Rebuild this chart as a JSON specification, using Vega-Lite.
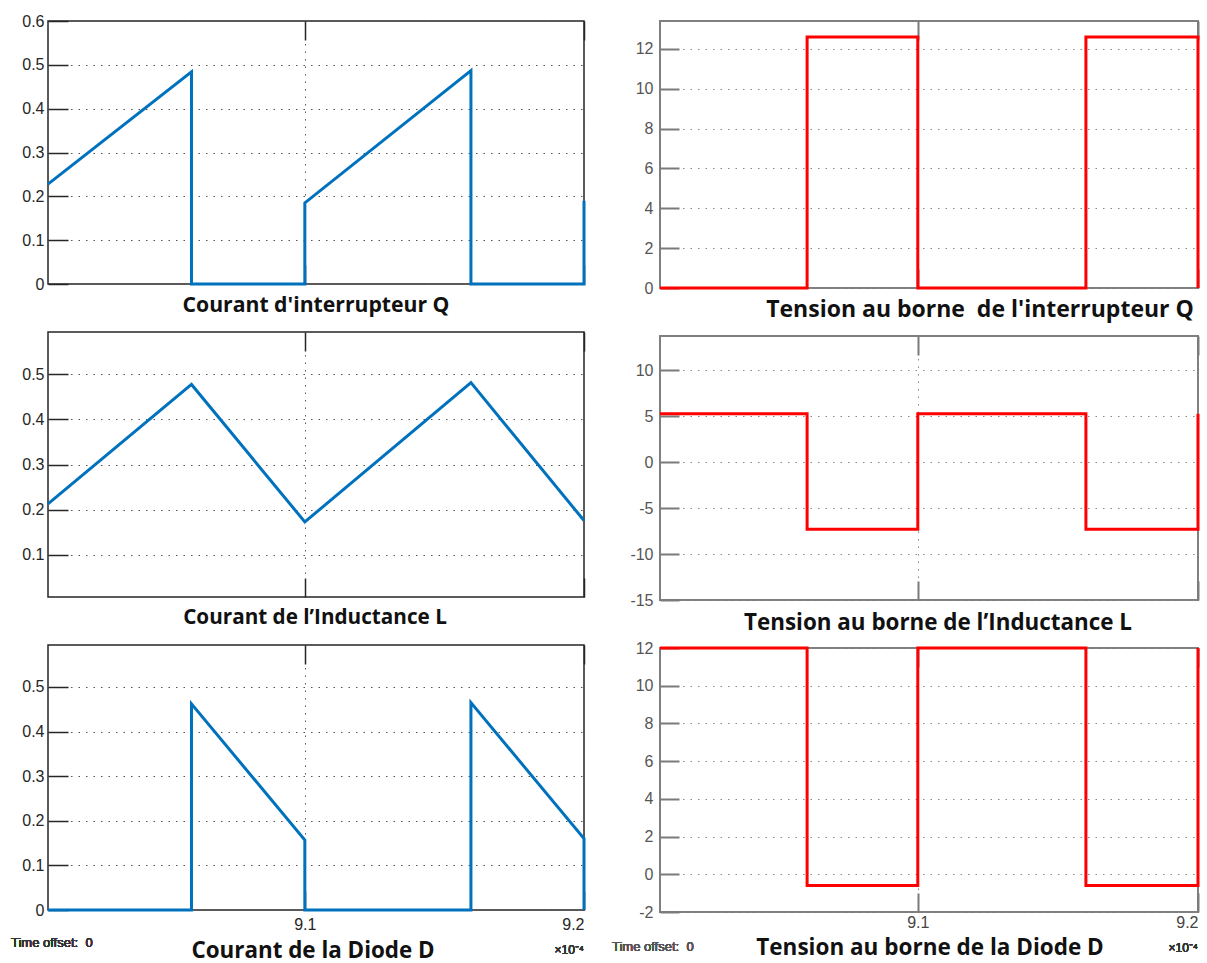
{
  "$schema": "https://vega.github.io/schema/vega-lite/v6.json",
  "background": "white",
  "padding": {"left": 10, "top": 12, "right": 5, "bottom": 5},
  "config": {
    "axis": {"labelFont": "Liberation Sans", "labelFontSize": 16, "title": null, "domain": false},
    "title": {"font": "Open Sans", "fontWeight": "bold", "fontSize": 20, "color": "#111111", "orient": "bottom", "anchor": "middle"}
  },
  "datasets": {
    "iQ": [
      {"t": 9.008, "v": 0.228}, {"t": 9.0594, "v": 0.484}, {"t": 9.0594, "v": 0}, {"t": 9.1, "v": 0},
      {"t": 9.1, "v": 0.185}, {"t": 9.1595, "v": 0.487}, {"t": 9.1595, "v": 0}, {"t": 9.2, "v": 0}, {"t": 9.2, "v": 0.19}
    ],
    "iL": [
      {"t": 9.008, "v": 0.213}, {"t": 9.0594, "v": 0.477}, {"t": 9.1, "v": 0.173}, {"t": 9.1595, "v": 0.481}, {"t": 9.2, "v": 0.176}
    ],
    "iD": [
      {"t": 9.008, "v": 0}, {"t": 9.0594, "v": 0}, {"t": 9.0594, "v": 0.462}, {"t": 9.1, "v": 0.157}, {"t": 9.1, "v": 0},
      {"t": 9.1595, "v": 0}, {"t": 9.1595, "v": 0.465}, {"t": 9.2, "v": 0.16}, {"t": 9.2, "v": 0}
    ],
    "vQ": [
      {"t": 9.008, "v": 0}, {"t": 9.0605, "v": 0}, {"t": 9.0605, "v": 12.6}, {"t": 9.1, "v": 12.6}, {"t": 9.1, "v": 0},
      {"t": 9.16, "v": 0}, {"t": 9.16, "v": 12.6}, {"t": 9.2, "v": 12.6}, {"t": 9.2, "v": 0}
    ],
    "vL": [
      {"t": 9.008, "v": 5.25}, {"t": 9.0605, "v": 5.25}, {"t": 9.0605, "v": -7.3}, {"t": 9.1, "v": -7.3}, {"t": 9.1, "v": 5.25},
      {"t": 9.16, "v": 5.25}, {"t": 9.16, "v": -7.3}, {"t": 9.2, "v": -7.3}, {"t": 9.2, "v": 5.25}
    ],
    "vD": [
      {"t": 9.008, "v": 12}, {"t": 9.0605, "v": 12}, {"t": 9.0605, "v": -0.6}, {"t": 9.1, "v": -0.6}, {"t": 9.1, "v": 12},
      {"t": 9.16, "v": 12}, {"t": 9.16, "v": -0.6}, {"t": 9.2, "v": -0.6}, {"t": 9.2, "v": 12}
    ]
  },
  "spacing": 20,
  "hconcat": [
    {
      "spacing": 48,
      "bounds": "flush",
      "vconcat": [
        {
          "width": 536, "height": 263,
          "view": {"stroke": "#262626", "strokeWidth": 1.5},
          "title": {"text": "Courant d'interrupteur Q", "offset": 3, "dx": 0, "fontSize": 21.2},
          "data": {"name": "iQ"},
          "resolve": {"axis": {"x": "independent"}},
          "encoding": {
            "y": {"field": "v", "type": "quantitative", "scale": {"domain": [0, 0.6], "nice": false, "zero": false},
                  "axis": {"values": [0, 0.1, 0.2, 0.3, 0.4, 0.5, 0.6], "format": "~g", "grid": true, "gridDash": [1.5, 6], "gridColor": "#555555", "tickSize": -20, "tickColor": "#262626", "tickWidth": 1.5, "labelPadding": 24, "labelColor": "#262626"}}
          },
          "layer": [
            {
              "mark": {"type": "line", "color": "#0072BD", "strokeWidth": 3},
              "encoding": {
                "x": {"field": "t", "type": "quantitative", "scale": {"domain": [9.008, 9.2], "nice": false, "zero": false},
                      "axis": {"values": [9.1, 9.2], "labels": false, "grid": true, "gridDash": [1.5, 6], "gridColor": "#555555", "tickSize": -19, "tickColor": "#262626", "tickWidth": 1.5}}
              }
            },
            {
              "mark": {"type": "line", "opacity": 0},
              "encoding": {
                "x": {"field": "t", "type": "quantitative", "scale": {"domain": [9.008, 9.2], "nice": false, "zero": false},
                      "axis": {"orient": "top", "values": [9.1, 9.2], "labels": false, "grid": false, "tickSize": -19, "tickColor": "#262626", "tickWidth": 1.5}}
              }
            }
          ]
        },
        {
          "width": 536, "height": 265,
          "view": {"stroke": "#262626", "strokeWidth": 1.5},
          "title": {"text": "Courant de l’Inductance L", "offset": 10, "dx": -1, "fontSize": 20.7},
          "data": {"name": "iL"},
          "resolve": {"axis": {"x": "independent"}},
          "encoding": {
            "y": {"field": "v", "type": "quantitative", "scale": {"domain": [0.007, 0.593], "nice": false, "zero": false},
                  "axis": {"values": [0.1, 0.2, 0.3, 0.4, 0.5], "format": "~g", "grid": true, "gridDash": [1.5, 6], "gridColor": "#555555", "tickSize": -20, "tickColor": "#262626", "tickWidth": 1.5, "labelPadding": 24, "labelColor": "#262626"}}
          },
          "layer": [
            {
              "mark": {"type": "line", "color": "#0072BD", "strokeWidth": 3},
              "encoding": {
                "x": {"field": "t", "type": "quantitative", "scale": {"domain": [9.008, 9.2], "nice": false, "zero": false},
                      "axis": {"values": [9.1, 9.2], "labels": false, "grid": true, "gridDash": [1.5, 6], "gridColor": "#555555", "tickSize": -19, "tickColor": "#262626", "tickWidth": 1.5}}
              }
            },
            {
              "mark": {"type": "line", "opacity": 0},
              "encoding": {
                "x": {"field": "t", "type": "quantitative", "scale": {"domain": [9.008, 9.2], "nice": false, "zero": false},
                      "axis": {"orient": "top", "values": [9.1, 9.2], "labels": false, "grid": false, "tickSize": -19, "tickColor": "#262626", "tickWidth": 1.5}}
              }
            }
          ]
        },
        {
          "width": 536, "height": 265,
          "view": {"stroke": "#262626", "strokeWidth": 1.5},
          "title": {"text": "Courant de la Diode D", "offset": -16, "dx": -3, "fontSize": 22.4},
          "data": {"name": "iD"},
          "resolve": {"axis": {"x": "independent"}},
          "encoding": {
            "y": {"field": "v", "type": "quantitative", "scale": {"domain": [0, 0.594], "nice": false, "zero": false},
                  "axis": {"values": [0, 0.1, 0.2, 0.3, 0.4, 0.5], "format": "~g", "grid": true, "gridDash": [1.5, 6], "gridColor": "#555555", "tickSize": -20, "tickColor": "#262626", "tickWidth": 1.5, "labelPadding": 24, "labelColor": "#262626"}}
          },
          "layer": [
            {
              "mark": {"type": "line", "color": "#0072BD", "strokeWidth": 3},
              "encoding": {
                "x": {"field": "t", "type": "quantitative", "scale": {"domain": [9.008, 9.2], "nice": false, "zero": false},
                      "axis": {"values": [9.1, 9.2], "format": ".1f", "labelPadding": 25, "labelColor": "#262626", "grid": true, "gridDash": [1.5, 6], "gridColor": "#555555", "tickSize": -19, "tickColor": "#262626", "tickWidth": 1.5}}
              }
            },
            {
              "mark": {"type": "line", "opacity": 0},
              "encoding": {
                "x": {"field": "t", "type": "quantitative", "scale": {"domain": [9.008, 9.2], "nice": false, "zero": false},
                      "axis": {"orient": "top", "values": [9.1, 9.2], "labels": false, "grid": false, "tickSize": -19, "tickColor": "#262626", "tickWidth": 1.5}}
              }
            },
            {
              "mark": {"type": "text", "text": "Time offset: \u00a00", "align": "left", "baseline": "middle", "dx": -37, "dy": 33, "font": "Liberation Sans", "fontSize": 13, "color": "#333333"},
              "encoding": {
                "x": {"datum": 9.008, "type": "quantitative", "axis": null},
                "y": {"datum": 0, "type": "quantitative"}
              }
            },
            {
              "mark": {"type": "text", "text": "×10⁻⁴", "align": "right", "baseline": "middle", "dx": 0, "dy": 40, "font": "Liberation Sans", "fontSize": 12, "color": "#333333"},
              "encoding": {
                "x": {"datum": 9.2, "type": "quantitative", "axis": null},
                "y": {"datum": 0, "type": "quantitative"}
              }
            }
          ]
        }
      ]
    },
    {
      "spacing": 48,
      "bounds": "flush",
      "vconcat": [
        {
          "width": 538, "height": 267,
          "view": {"stroke": "#7f7f7f", "strokeWidth": 2},
          "title": {"text": "Tension au borne \u00a0de l'interrupteur Q", "offset": 3, "dx": 51, "fontSize": 23},
          "data": {"name": "vQ"},
          "resolve": {"axis": {"x": "independent"}},
          "encoding": {
            "y": {"field": "v", "type": "quantitative", "scale": {"domain": [0, 13.4], "nice": false, "zero": false},
                  "axis": {"values": [0, 2, 4, 6, 8, 10, 12], "labelExpr": "replace(format(datum.value, 'd'), '−', '-')", "grid": true, "gridDash": [1.5, 6], "gridColor": "#8a8a8a", "tickSize": -19, "tickColor": "#7a7a7a", "tickWidth": 2, "labelPadding": 26, "labelColor": "#555555"}}
          },
          "layer": [
            {
              "mark": {"type": "line", "color": "#FF0000", "strokeWidth": 3},
              "encoding": {
                "x": {"field": "t", "type": "quantitative", "scale": {"domain": [9.008, 9.2], "nice": false, "zero": false},
                      "axis": {"values": [9.1, 9.2], "labels": false, "grid": true, "gridDash": [1.5, 6], "gridColor": "#8a8a8a", "tickSize": -19, "tickColor": "#7a7a7a", "tickWidth": 2}}
              }
            },
            {
              "mark": {"type": "line", "opacity": 0},
              "encoding": {
                "x": {"field": "t", "type": "quantitative", "scale": {"domain": [9.008, 9.2], "nice": false, "zero": false},
                      "axis": {"orient": "top", "values": [9.1, 9.2], "labels": false, "grid": false, "tickSize": -19, "tickColor": "#7a7a7a", "tickWidth": 2}}
              }
            }
          ]
        },
        {
          "width": 538, "height": 264,
          "view": {"stroke": "#7f7f7f", "strokeWidth": 2},
          "title": {"text": "Tension au borne de l’Inductance L", "offset": 4, "dx": 9, "fontSize": 22.4},
          "data": {"name": "vL"},
          "resolve": {"axis": {"x": "independent"}},
          "encoding": {
            "y": {"field": "v", "type": "quantitative", "scale": {"domain": [-15, 13.7], "nice": false, "zero": false},
                  "axis": {"values": [-15, -10, -5, 0, 5, 10], "labelExpr": "replace(format(datum.value, 'd'), '−', '-')", "grid": true, "gridDash": [1.5, 6], "gridColor": "#8a8a8a", "tickSize": -19, "tickColor": "#7a7a7a", "tickWidth": 2, "labelPadding": 26, "labelColor": "#555555"}}
          },
          "layer": [
            {
              "mark": {"type": "line", "color": "#FF0000", "strokeWidth": 3},
              "encoding": {
                "x": {"field": "t", "type": "quantitative", "scale": {"domain": [9.008, 9.2], "nice": false, "zero": false},
                      "axis": {"values": [9.1, 9.2], "labels": false, "grid": true, "gridDash": [1.5, 6], "gridColor": "#8a8a8a", "tickSize": -19, "tickColor": "#7a7a7a", "tickWidth": 2}}
              }
            },
            {
              "mark": {"type": "line", "opacity": 0},
              "encoding": {
                "x": {"field": "t", "type": "quantitative", "scale": {"domain": [9.008, 9.2], "nice": false, "zero": false},
                      "axis": {"orient": "top", "values": [9.1, 9.2], "labels": false, "grid": false, "tickSize": -19, "tickColor": "#7a7a7a", "tickWidth": 2}}
              }
            }
          ]
        },
        {
          "width": 538, "height": 264,
          "view": {"stroke": "#7f7f7f", "strokeWidth": 2},
          "title": {"text": "Tension au borne de la Diode D", "offset": -17, "dx": 1, "fontSize": 22.5},
          "data": {"name": "vD"},
          "resolve": {"axis": {"x": "independent"}},
          "encoding": {
            "y": {"field": "v", "type": "quantitative", "scale": {"domain": [-2, 12], "nice": false, "zero": false},
                  "axis": {"values": [-2, 0, 2, 4, 6, 8, 10, 12], "labelExpr": "replace(format(datum.value, 'd'), '−', '-')", "grid": true, "gridDash": [1.5, 6], "gridColor": "#8a8a8a", "tickSize": -19, "tickColor": "#7a7a7a", "tickWidth": 2, "labelPadding": 26, "labelColor": "#555555"}}
          },
          "layer": [
            {
              "mark": {"type": "line", "color": "#FF0000", "strokeWidth": 3},
              "encoding": {
                "x": {"field": "t", "type": "quantitative", "scale": {"domain": [9.008, 9.2], "nice": false, "zero": false},
                      "axis": {"values": [9.1, 9.2], "format": ".1f", "labelPadding": 21, "labelColor": "#444444", "grid": true, "gridDash": [1.5, 6], "gridColor": "#8a8a8a", "tickSize": -19, "tickColor": "#7a7a7a", "tickWidth": 2}}
              }
            },
            {
              "mark": {"type": "line", "opacity": 0},
              "encoding": {
                "x": {"field": "t", "type": "quantitative", "scale": {"domain": [9.008, 9.2], "nice": false, "zero": false},
                      "axis": {"orient": "top", "values": [9.1, 9.2], "labels": false, "grid": false, "tickSize": -19, "tickColor": "#7a7a7a", "tickWidth": 2}}
              }
            },
            {
              "mark": {"type": "text", "text": "Time offset: \u00a00", "align": "left", "baseline": "middle", "dx": -48, "dy": 35, "font": "Liberation Sans", "fontSize": 13, "color": "#555555"},
              "encoding": {
                "x": {"datum": 9.008, "type": "quantitative", "axis": null},
                "y": {"datum": -2, "type": "quantitative"}
              }
            },
            {
              "mark": {"type": "text", "text": "×10⁻⁴", "align": "right", "baseline": "middle", "dx": 0, "dy": 36, "font": "Liberation Sans", "fontSize": 12, "color": "#333333"},
              "encoding": {
                "x": {"datum": 9.2, "type": "quantitative", "axis": null},
                "y": {"datum": -2, "type": "quantitative"}
              }
            }
          ]
        }
      ]
    }
  ]
}
